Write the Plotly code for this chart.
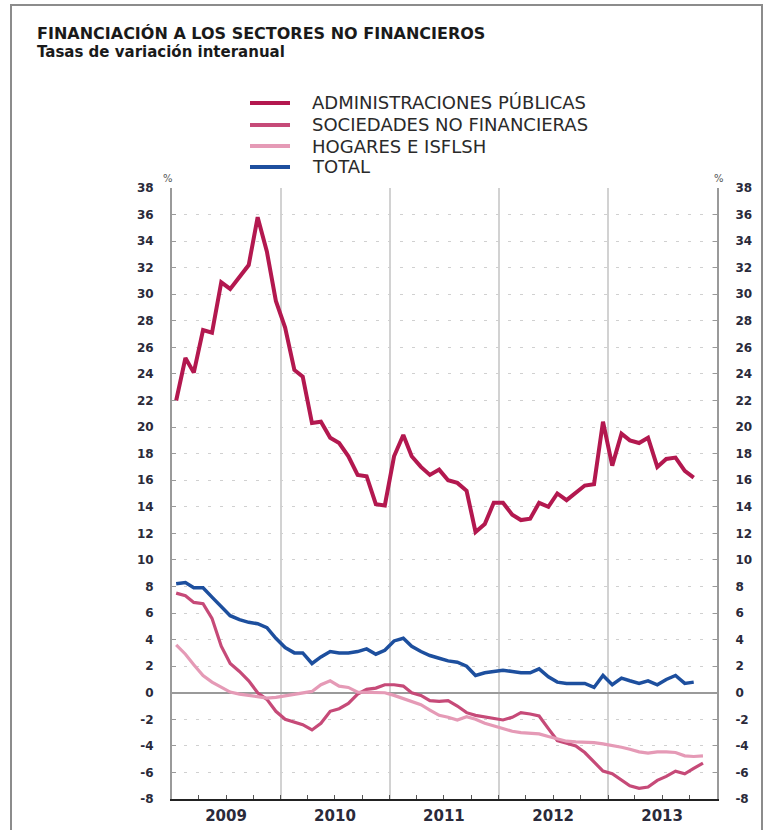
import pandas as pd
import plotly.graph_objects as go

# Monthly year-on-year growth rates (%), January 2009 onwards
admin_publicas = [22.0, 25.2, 24.1, 27.3, 27.1, 30.9, 30.4, 31.3, 32.2, 35.8, 33.2, 29.5,
                  27.5, 24.3, 23.8, 20.3, 20.4, 19.2, 18.8, 17.8, 16.4, 16.3, 14.2, 14.1,
                  17.8, 19.4, 17.8, 17.0, 16.4, 16.8, 16.0, 15.8, 15.2, 12.1, 12.7, 14.3,
                  14.3, 13.4, 13.0, 13.1, 14.3, 14.0, 15.0, 14.5, 15.1, 15.6, 15.7, 20.4,
                  17.1, 19.5, 19.0, 18.8, 19.2, 17.0, 17.6, 17.7, 16.7, 16.2]
sociedades = [7.5, 7.3, 6.8, 6.7, 5.6, 3.5, 2.2, 1.6, 0.9, 0.0, -0.5, -1.4,
              -2.0, -2.2, -2.4, -2.8, -2.3, -1.4, -1.2, -0.8, -0.1, 0.25, 0.35, 0.6,
              0.6, 0.5, 0.0, -0.2, -0.6, -0.65, -0.6, -1.0, -1.5, -1.7, -1.8, -1.95,
              -2.05, -1.85, -1.5, -1.6, -1.75, -2.7, -3.6, -3.8, -4.0, -4.5, -5.2, -5.9,
              -6.1, -6.6, -7.0, -7.2, -7.1, -6.6, -6.3, -5.9, -6.1, -5.7, -5.3]
hogares = [3.6, 2.9, 2.1, 1.3, 0.8, 0.45, 0.05, -0.1, -0.2, -0.3, -0.4, -0.35,
           -0.25, -0.1, 0.0, 0.1, 0.6, 0.9, 0.5, 0.4, 0.05, 0.05, 0.05, 0.0,
           -0.2, -0.45, -0.7, -0.9, -1.3, -1.7, -1.85, -2.05, -1.8, -2.0, -2.3, -2.5,
           -2.7, -2.9, -3.0, -3.05, -3.1, -3.3, -3.5, -3.65, -3.7, -3.7, -3.75, -3.85,
           -3.95, -4.1, -4.25, -4.45, -4.55, -4.45, -4.45, -4.5, -4.75, -4.8, -4.75]
total = [8.2, 8.3, 7.9, 7.9, 7.2, 6.5, 5.8, 5.5, 5.3, 5.2, 4.9, 4.1,
         3.4, 3.0, 3.0, 2.2, 2.7, 3.1, 3.0, 3.0, 3.1, 3.3, 2.9, 3.2,
         3.9, 4.1, 3.5, 3.1, 2.8, 2.6, 2.4, 2.3, 2.0, 1.3, 1.5, 1.6,
         1.7, 1.6, 1.5, 1.5, 1.8, 1.2, 0.8, 0.7, 0.7, 0.7, 0.4, 1.3,
         0.6, 1.1, 0.9, 0.7, 0.9, 0.6, 1.0, 1.3, 0.7, 0.8]

years = ["2009", "2010", "2011", "2012", "2013"]
y_ticks = list(range(-8, 39, 2))
y_labels = [str(v) for v in y_ticks]

series_names = ["ADMINISTRACIONES PÚBLICAS", "SOCIEDADES NO FINANCIERAS",
                "HOGARES E ISFLSH", "TOTAL"]
series_colors = ["#b3184f", "#c64a78", "#e59ab6", "#1d4f9e"]
series_widths = [4, 3.2, 3.2, 3.5]
series_values = [admin_publicas, sociedades, hogares, total]


# Points sit in the middle of each month
def mid_months(n):
    return pd.date_range("2009-01-01", periods=n, freq="MS") + pd.Timedelta(days=14)


fig = go.Figure()
for name, vals, col, w in zip(series_names, series_values, series_colors, series_widths):
    fig.add_trace(go.Scatter(x=mid_months(len(vals)), y=vals, mode="lines", name=name,
                             line=dict(color=col, width=w), hoverinfo="skip",
                             showlegend=False))

# invisible companion trace so the right-hand axis is drawn
fig.add_trace(go.Scatter(x=mid_months(len(total)), y=total, yaxis="y2", mode="lines",
                         line=dict(width=0), opacity=0, showlegend=False, hoverinfo="skip"))

# x ticks: quarter starts, with the year label on the July tick
quarter_starts = pd.date_range("2009-01-01", "2014-01-01", freq="QS")
quarter_text = [str(d.year) if d.month == 7 else "" for d in quarter_starts]
year_starts = pd.date_range("2010-01-01", periods=len(years) - 1, freq="YS")

W, H = 769, 830
L, R, T, B = 172, 52, 188, 31
pw, ph = W - L - R, H - T - B


def px_x(p):
    return (p - L) / pw


def px_y(p):
    return (H - B - p) / ph


tick_font = dict(family="DejaVu Sans", size=12, color="#2a2a3a", weight="bold")
axis_common = dict(range=[-8, 38], tickvals=y_ticks, ticktext=y_labels,
                   ticks="inside", ticklen=4, tickcolor="#999", tickwidth=1,
                   showline=True, linecolor="#9a9a9a", linewidth=2,
                   tickfont=tick_font, ticklabelstandoff=14, automargin=False)

fig.update_layout(
    width=W, height=H,
    margin=dict(l=L, r=R, t=T, b=B, autoexpand=False),
    paper_bgcolor="white", plot_bgcolor="white",
    showlegend=False,
    xaxis=dict(type="date", range=["2009-01-01", "2014-01-01"],
               tickvals=quarter_starts, ticktext=quarter_text,
               ticks="inside", ticklen=4, tickcolor="#555", tickwidth=1,
               showgrid=False, zeroline=False, automargin=False,
               showline=True, linecolor="#222", linewidth=2,
               ticklabelstandoff=2,
               tickfont=dict(family="DejaVu Sans", size=15, color="#2a2a3a", weight="bold"),
               minor=dict(tickvals=year_starts, showgrid=True, gridcolor="#d2d2d2",
                          gridwidth=1.5, ticklen=0)),
    yaxis=dict(**axis_common, showgrid=True, gridcolor="#d0d0d0", gridwidth=1,
               griddash="3px,9px", zeroline=True, zerolinecolor="#9a9a9a",
               zerolinewidth=1.5, side="left"),
    yaxis2=dict(**axis_common, overlaying="y", side="right", showgrid=False,
                zeroline=False),
)

# outer frame
fig.add_shape(type="rect", xref="paper", yref="paper",
              x0=px_x(11), x1=px_x(762), y0=px_y(845), y1=px_y(5),
              line=dict(color="#8c8c8c", width=2), fillcolor="rgba(0,0,0,0)", layer="below")

# legend: key line + label for each series, stacked above the plot
legend_rows = [103, 125, 146, 167]
for name, col, row in zip(series_names, series_colors, legend_rows):
    fig.add_shape(type="line", xref="paper", yref="paper",
                  x0=px_x(250), x1=px_x(290), y0=px_y(row), y1=px_y(row),
                  line=dict(color=col, width=4))
    fig.add_annotation(text=name, xref="paper", yref="paper", x=px_x(310), y=px_y(row),
                       xanchor="left", yanchor="middle", showarrow=False,
                       font=dict(family="DejaVu Sans", size=18, color="#2a2a2a"))

fig.add_annotation(text="FINANCIACIÓN A LOS SECTORES NO FINANCIEROS",
                   xref="paper", yref="paper", x=px_x(35), y=px_y(33.5),
                   xanchor="left", yanchor="middle", showarrow=False,
                   font=dict(family="DejaVu Sans", size=16, color="#1a1a1a", weight="bold"))
fig.add_annotation(text="Tasas de variación interanual",
                   xref="paper", yref="paper", x=px_x(35), y=px_y(52.5),
                   xanchor="left", yanchor="middle", showarrow=False,
                   font=dict(family="DejaVu Sans", size=15, color="#1a1a1a", weight="bold"))
for xp in (px_x(168), px_x(719)):
    fig.add_annotation(text="%", xref="paper", yref="paper", x=xp, y=px_y(178),
                       xanchor="center", yanchor="middle", showarrow=False,
                       font=dict(family="DejaVu Sans", size=10, color="#555"))

fig.write_html("out.html")
